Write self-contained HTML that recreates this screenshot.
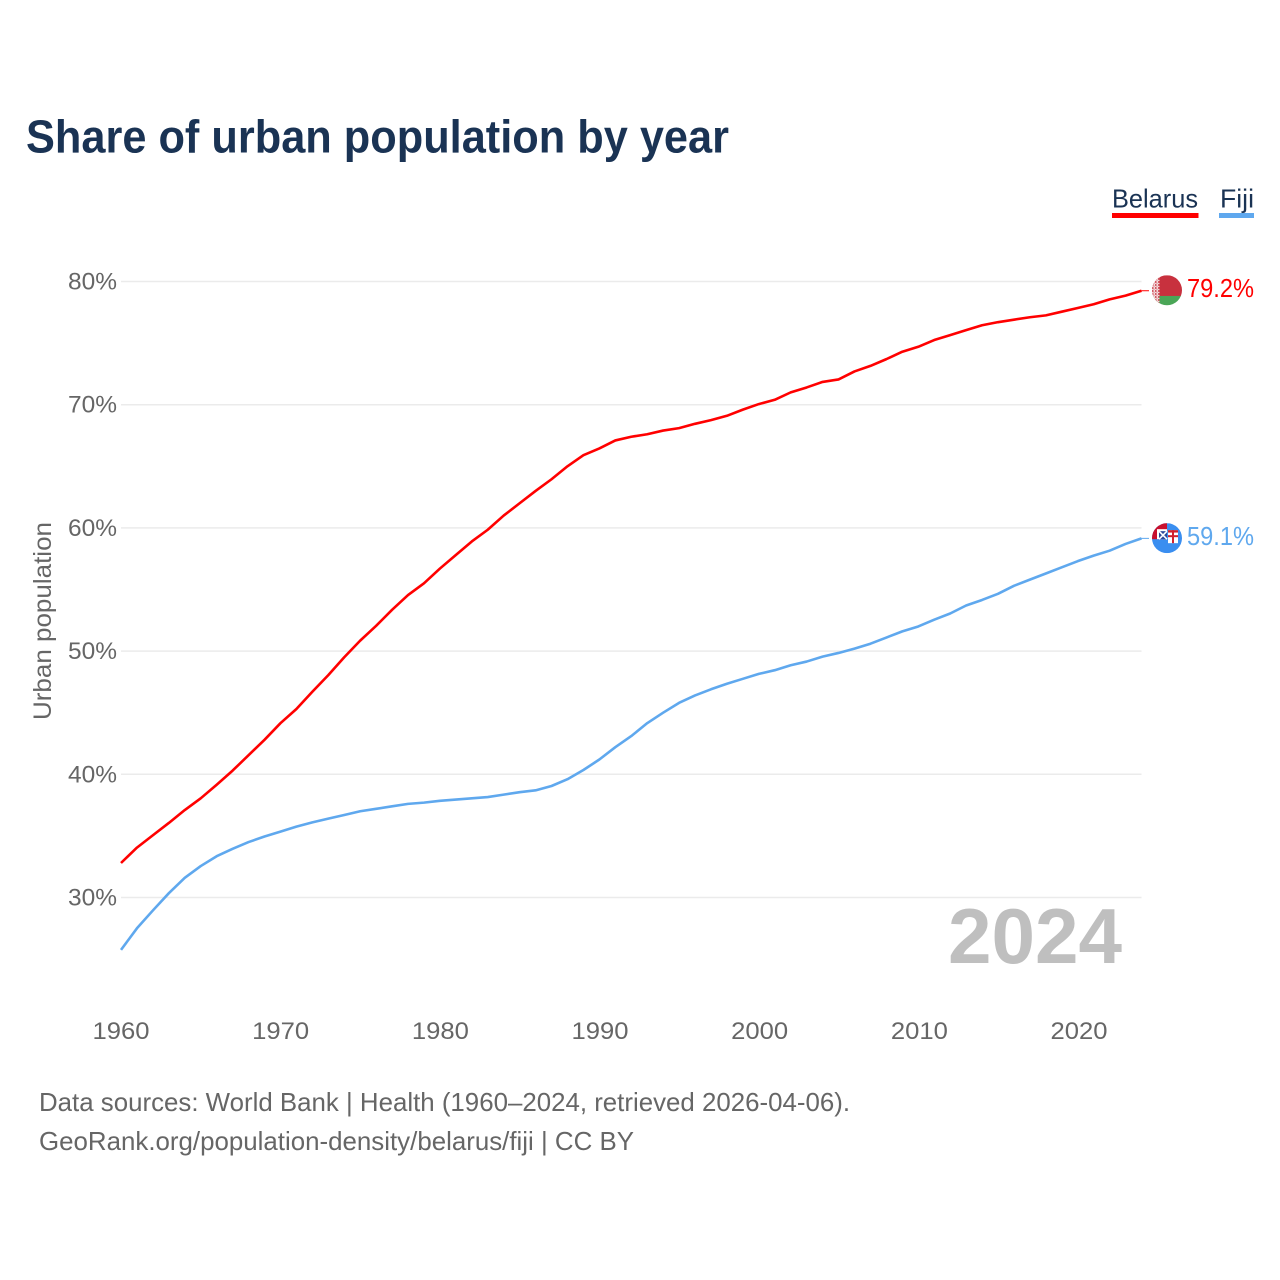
<!DOCTYPE html>
<html lang="en">
<head>
<meta charset="utf-8">
<title>Share of urban population by year</title>
<style>
  html, body { margin: 0; padding: 0; background: #fff; }
  svg { display: block; font-family: "Liberation Sans", sans-serif; }
</style>
</head>
<body>
<svg id="chart" xmlns="http://www.w3.org/2000/svg" width="1280" height="1280" viewBox="0 0 1280 1280">
  <defs>
    <clipPath id="flag-clip"><circle cx="0" cy="0" r="15"></circle></clipPath>
    <pattern id="hoist-pattern" width="3" height="3" patternUnits="userSpaceOnUse">
      <rect width="3" height="3" fill="#f3dcdd"></rect>
      <rect x="0" y="0" width="1.5" height="1.5" fill="#c8313e"></rect>
      <rect x="1.5" y="1.5" width="1" height="1" fill="#d8757d"></rect>
    </pattern>
  </defs>
  <rect width="1280" height="1280" fill="#ffffff"></rect>
  <text x="26" y="152.5" font-size="46" font-weight="700" fill="#1a3354" textLength="703" lengthAdjust="spacingAndGlyphs">Share of urban population by year</text>

  <g>
    <g>
      <text x="1112" y="207.5" font-size="26" fill="#1a3354" textLength="86" lengthAdjust="spacingAndGlyphs">Belarus</text>
      <rect x="1112" y="213" width="86.5" height="5" fill="#ff0000"></rect>
    </g>
    <g>
      <text x="1220" y="207.5" font-size="26" fill="#1a3354" textLength="34" lengthAdjust="spacingAndGlyphs">Fiji</text>
      <rect x="1219" y="213" width="35" height="5" fill="#5fa8ee"></rect>
    </g>
  </g>

  <g id="grid"></g>
  <g id="y-ticks"></g>
  <g id="x-ticks"></g>
  <text transform="translate(51,720) rotate(-90)" x="0" y="0" font-size="25" fill="#666666" textLength="198" lengthAdjust="spacingAndGlyphs">Urban population</text>

  <text x="948" y="963" font-size="78" font-weight="700" fill="#bfbfbf" textLength="174" lengthAdjust="spacingAndGlyphs">2024</text>

  <g id="series"></g>

  <g id="flag-belarus">
    <g clip-path="url(#flag-clip)">
      <rect x="-15" y="-15" width="30" height="21" fill="#c8313e"></rect>
      <rect x="-15" y="5.7" width="30" height="10" fill="#4aa657"></rect>
      <rect x="-15" y="-15" width="7.5" height="30" fill="url(#hoist-pattern)"></rect>
    </g>
  </g>
  <g id="flag-fiji">
    <g clip-path="url(#flag-clip)">
      <rect x="-15" y="-15" width="30" height="30" fill="#3a8ef0"></rect>
      <rect x="-15" y="-15" width="15" height="16" fill="#c8102e"></rect>
      <rect x="-10" y="-9" width="10" height="10" fill="#ffffff"></rect>
      <rect x="-8" y="-7" width="8" height="8" fill="#2b4a9b"></rect>
      <path d="M-8,-7 L0,1 M0,-7 L-8,1" stroke="#ffffff" stroke-width="1.6"></path>
      <rect x="1" y="-8" width="10" height="13" fill="#ffffff"></rect>
      <rect x="5" y="-8" width="2" height="13" fill="#d0202e"></rect>
      <rect x="1" y="-3" width="10" height="2" fill="#d0202e"></rect>
      <rect x="1" y="-8" width="10" height="2.4" fill="#d0202e"></rect>
    </g>
  </g>
  <g id="end-labels"></g>

  <text x="39" y="1111" font-size="26" fill="#666666" textLength="811" lengthAdjust="spacingAndGlyphs">Data sources: World Bank | Health (1960–2024, retrieved 2026-04-06).</text>
  <text x="39" y="1150" font-size="26" fill="#666666" textLength="595" lengthAdjust="spacingAndGlyphs">GeoRank.org/population-density/belarus/fiji | CC BY</text>
</svg>
<script>
const years = [1960,1961,1962,1963,1964,1965,1966,1967,1968,1969,1970,1971,1972,1973,1974,1975,1976,1977,1978,1979,1980,1981,1982,1983,1984,1985,1986,1987,1988,1989,1990,1991,1992,1993,1994,1995,1996,1997,1998,1999,2000,2001,2002,2003,2004,2005,2006,2007,2008,2009,2010,2011,2012,2013,2014,2015,2016,2017,2018,2019,2020,2021,2022,2023,2024];
const belarusValues = [32.8,34.05,35.05,36.05,37.1,38.05,39.15,40.3,41.55,42.8,44.15,45.3,46.7,48.05,49.5,50.85,52.05,53.35,54.55,55.5,56.7,57.8,58.9,59.85,61.0,62.0,63.0,63.95,65.0,65.9,66.45,67.1,67.4,67.6,67.9,68.1,68.45,68.75,69.1,69.6,70.05,70.4,71.0,71.4,71.85,72.05,72.7,73.15,73.7,74.3,74.7,75.25,75.65,76.05,76.45,76.7,76.9,77.1,77.25,77.55,77.85,78.15,78.55,78.85,79.25];
const fijiValues = [25.75,27.5,28.95,30.35,31.6,32.55,33.35,33.95,34.5,34.95,35.35,35.75,36.1,36.4,36.7,37.0,37.2,37.4,37.6,37.7,37.85,37.95,38.05,38.15,38.35,38.55,38.7,39.05,39.6,40.35,41.2,42.2,43.1,44.15,45.0,45.8,46.4,46.9,47.35,47.75,48.15,48.45,48.85,49.15,49.55,49.85,50.2,50.6,51.1,51.6,52.0,52.55,53.05,53.7,54.15,54.65,55.3,55.8,56.3,56.8,57.3,57.75,58.15,58.7,59.15];
const yTickValues = [30,40,50,60,70,80];
const xTickValues = [1960,1970,1980,1990,2000,2010,2020];
const endLabelTexts = ["79.2%","59.1%"];

const NS = "http://www.w3.org/2000/svg";
const xAxisLeft = 121, xAxisRight = 1141.5, xDomainMin = 1960, xDomainMax = 2024;
const yAt30 = 897.5, yAt80 = 281.5;
function xScale(year) { return xAxisLeft + (year - xDomainMin) * (xAxisRight - xAxisLeft) / (xDomainMax - xDomainMin); }
function yScale(value) { return yAt30 + (value - 30) * (yAt80 - yAt30) / 50; }
function make(tag, parentId) {
  const el = document.createElementNS(NS, tag);
  document.getElementById(parentId).appendChild(el);
  return el;
}

yTickValues.forEach(function (v) {
  const line = make("line", "grid");
  
  
  line.setAttribute("x1", xAxisLeft);
  line.setAttribute("x2", xAxisRight);
  line.setAttribute("y1", yScale(v));
  line.setAttribute("y2", yScale(v));
  line.setAttribute("stroke", "#ebebeb");
  line.setAttribute("stroke-width", "1.5");

  const label = make("text", "y-ticks");
  
  
  label.setAttribute("x", 68);
  label.setAttribute("y", yScale(v) + 8);
  label.setAttribute("font-size", "24");
  label.setAttribute("fill", "#666666");
  label.setAttribute("textLength", "49");
  label.setAttribute("lengthAdjust", "spacingAndGlyphs");
  label.textContent = v + "%";
});

xTickValues.forEach(function (year) {
  const label = make("text", "x-ticks");
  
  
  label.setAttribute("x", xScale(year) - 28.5 + (year - 1960) * 0.022);
  label.setAttribute("y", 1039);
  label.setAttribute("font-size", "24");
  label.setAttribute("fill", "#666666");
  label.setAttribute("textLength", "57");
  label.setAttribute("lengthAdjust", "spacingAndGlyphs");
  label.textContent = String(year);
});

function points(values) {
  return values.map(function (v, i) { return xScale(years[i]).toFixed(2) + "," + yScale(v).toFixed(2); }).join(" ");
}

const belarusLine = make("polyline", "series");


belarusLine.setAttribute("points", points(belarusValues));
belarusLine.setAttribute("fill", "none");
belarusLine.setAttribute("stroke", "#ff0000");
belarusLine.setAttribute("stroke-width", "2.6");
belarusLine.setAttribute("stroke-linejoin", "round");

const fijiLine = make("polyline", "series");


fijiLine.setAttribute("points", points(fijiValues));
fijiLine.setAttribute("fill", "none");
fijiLine.setAttribute("stroke", "#5fa8ee");
fijiLine.setAttribute("stroke-width", "2.6");
fijiLine.setAttribute("stroke-linejoin", "round");

const belarusEndY = yScale(belarusValues[belarusValues.length - 1]);
const fijiEndY = yScale(fijiValues[fijiValues.length - 1]);

const belarusConnector = make("line", "series");


belarusConnector.setAttribute("x1", xAxisRight);
belarusConnector.setAttribute("x2", 1149);
belarusConnector.setAttribute("y1", belarusEndY);
belarusConnector.setAttribute("y2", belarusEndY);
belarusConnector.setAttribute("stroke", "#ff0000");
belarusConnector.setAttribute("stroke-width", "1");

const fijiConnector = make("line", "series");


fijiConnector.setAttribute("x1", xAxisRight);
fijiConnector.setAttribute("x2", 1149);
fijiConnector.setAttribute("y1", fijiEndY);
fijiConnector.setAttribute("y2", fijiEndY);
fijiConnector.setAttribute("stroke", "#5fa8ee");
fijiConnector.setAttribute("stroke-width", "1");

document.getElementById("flag-belarus").setAttribute("transform", "translate(1167," + (belarusEndY - 0.5) + ")");
document.getElementById("flag-fiji").setAttribute("transform", "translate(1167," + (fijiEndY - 0.2) + ")");

const belarusLabel = make("text", "end-labels");


belarusLabel.setAttribute("x", 1187);
belarusLabel.setAttribute("y", belarusEndY + 6.5);
belarusLabel.setAttribute("font-size", "26");
belarusLabel.setAttribute("fill", "#ff0000");
belarusLabel.setAttribute("textLength", "67");
belarusLabel.setAttribute("lengthAdjust", "spacingAndGlyphs");
belarusLabel.textContent = endLabelTexts[0];

const fijiLabel = make("text", "end-labels");


fijiLabel.setAttribute("x", 1187);
fijiLabel.setAttribute("y", fijiEndY + 6.5);
fijiLabel.setAttribute("font-size", "26");
fijiLabel.setAttribute("fill", "#5fa8ee");
fijiLabel.setAttribute("textLength", "67");
fijiLabel.setAttribute("lengthAdjust", "spacingAndGlyphs");
fijiLabel.textContent = endLabelTexts[1];
</script>
</body>
</html>
